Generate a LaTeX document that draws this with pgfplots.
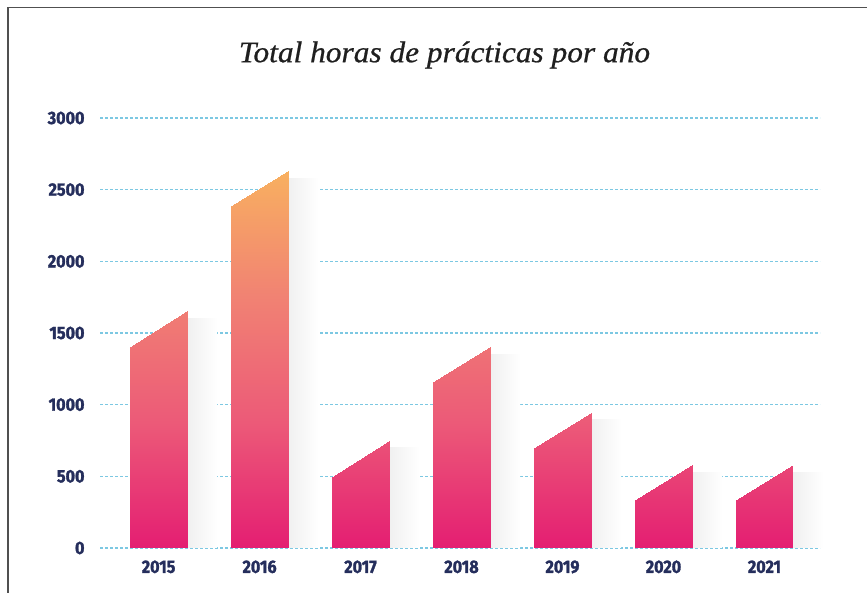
\documentclass[border=0pt]{standalone}
\usepackage{fontspec}
\setmainfont{Liberation Serif}
\newfontfamily\titlefont[FakeStretch=1.05, FakeBold=0.7]{Liberation Serif}
\newfontfamily\tickfont[FakeStretch=0.9, FakeBold=1.6]{Fira Sans}
\usepackage{pgfplots}
\pgfplotsset{compat=1.18}
\definecolor{navy}{RGB}{37,46,92}
\definecolor{gridblue}{RGB}{124,200,226}
\definecolor{framegray}{RGB}{80,80,80}
\begin{document}
\begin{tikzpicture}
\path[use as bounding box] (0,0) rectangle (867bp,593bp);
\draw[framegray, line width=1.4bp] (8bp,0) -- (8bp,585.5bp) -- (867bp,585.5bp);
\node[font=\titlefont\itshape\fontsize{30}{33}\selectfont, text=black!88] at (444.5bp,538bp) {Total horas de prácticas por año};
\begin{axis}[
  at={(100bp,45bp)}, anchor=south west,
  scale only axis, width=720bp, height=430bp,
  xmin=-0.58, xmax=6.55, ymin=0, ymax=3000,
  clip=false,
  axis line style={draw=none},
  major tick length=0pt,
  xtick={0,1,2,3,4,5,6},
  xticklabels={2015,2016,2017,2018,2019,2020,2021},
  ytick={0,500,1000,1500,2000,2500,3000},
  /pgf/number format/1000 sep={},
  /pgf/number format/assume math mode=true,
  ticklabel style={font=\tickfont\bfseries\fontsize{18}{18}\selectfont, text=navy},
  yticklabel style={xshift=-12bp},
  xticklabel style={yshift=-9bp},
  ymajorgrids,
  grid style={gridblue, line width=1.2bp, dash pattern=on 2.5bp off 2.5bp},
  colormap={barmap}{rgb255=(228,30,114) rgb255=(236,90,120) rgb255=(241,130,115) rgb255=(248,176,96)},
  point meta min=0, point meta max=2630,
]
% shadows
\addplot[draw=none, left color=black!6, right color=white, forget plot] coordinates {(0.282,0) (0.58,0) (0.58,1600) (0.282,1600)} -- cycle;
\addplot[draw=none, left color=black!6, right color=white, forget plot] coordinates {(1.282,0) (1.58,0) (1.58,2580) (1.282,2580)} -- cycle;
\addplot[draw=none, left color=black!6, right color=white, forget plot] coordinates {(2.282,0) (2.58,0) (2.58,700) (2.282,700)} -- cycle;
\addplot[draw=none, left color=black!6, right color=white, forget plot] coordinates {(3.282,0) (3.58,0) (3.58,1350) (3.282,1350)} -- cycle;
\addplot[draw=none, left color=black!6, right color=white, forget plot] coordinates {(4.282,0) (4.58,0) (4.58,895) (4.282,895)} -- cycle;
\addplot[draw=none, left color=black!6, right color=white, forget plot] coordinates {(5.282,0) (5.58,0) (5.58,530) (5.282,530)} -- cycle;
\addplot[draw=none, left color=black!6, right color=white, forget plot] coordinates {(6.282,0) (6.58,0) (6.58,530) (6.282,530)} -- cycle;
% bars: each quadrilateral (x0,0) (x1,0) (x1,right top) (x0,left top)
\addplot[patch, patch type=rectangle, shader=interp, point meta=y] coordinates {
 (-0.282,0) (0.282,0) (0.282,1650) (-0.282,1400)
 (0.718,0) (1.282,0) (1.282,2630) (0.718,2385)
 (1.718,0) (2.282,0) (2.282,745) (1.718,495)
 (2.718,0) (3.282,0) (3.282,1400) (2.718,1160)
 (3.718,0) (4.282,0) (4.282,945) (3.718,700)
 (4.718,0) (5.282,0) (5.282,580) (4.718,335)
 (5.718,0) (6.282,0) (6.282,580) (5.718,335)
};
\end{axis}
\end{tikzpicture}
\end{document}
